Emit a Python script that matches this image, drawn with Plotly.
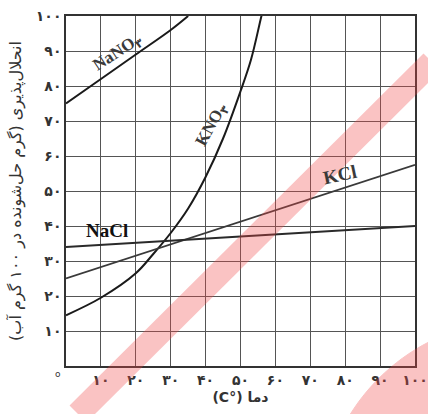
import math
import plotly.graph_objects as go

# ---- data ----
temp_nano3 = [0, 10, 20, 30, 35]
sol_nano3 = [75, 82, 89, 96, 100]

temp_kno3 = [0, 10, 20, 25, 30, 35, 40, 45, 50, 53, 56, 57.5]
sol_kno3 = [14.5, 19.5, 26.5, 32, 38, 45, 54, 65, 78.5, 87.5, 100, 106]

temp_kcl = [0, 20, 40, 60, 80, 100]
sol_kcl = [25, 31.5, 38, 44.5, 51, 57.5]

temp_nacl = [0, 20, 40, 60, 80, 100]
sol_nacl = [34, 35.2, 36.4, 37.6, 38.8, 40]

tick_vals = [10, 20, 30, 40, 50, 60, 70, 80, 90, 100]
tick_text = ["۱۰", "۲۰", "۳۰", "۴۰", "۵۰", "۶۰", "۷۰", "۸۰", "۹۰", "۱۰۰"]

x_title = "\u202Bدما (°C)\u202C"
y_title = "\u202Bانحلال‌پذیری (گرم حل‌شونده در ۱۰۰ گرم آب)\u202C"

fig = go.Figure()

fig.add_trace(go.Scatter(x=temp_nano3, y=sol_nano3, mode="lines",
                         line=dict(color="#1a1a1a", width=2), line_shape="spline", name="NaNO3"))
fig.add_trace(go.Scatter(x=temp_kno3, y=sol_kno3, mode="lines",
                         line=dict(color="#1a1a1a", width=2), line_shape="spline", name="KNO3"))
fig.add_trace(go.Scatter(x=temp_kcl, y=sol_kcl, mode="lines",
                         line=dict(color="#3a3a3a", width=1.8), name="KCl"))
fig.add_trace(go.Scatter(x=temp_nacl, y=sol_nacl, mode="lines",
                         line=dict(color="#2a2a2a", width=1.8), name="NaCl"))

serif = "Liberation Serif, DejaVu Serif, DejaVu Sans"
ann = [
    dict(x=14.9, y=89.4, text="<b>NaNO<sub>۳</sub></b>", textangle=-33,
         font=dict(family=serif, size=17, color="#3a3a3a")),
    dict(x=41.9, y=68.9, text="<b>KNO<sub>۳</sub></b>", textangle=-61,
         font=dict(family=serif, size=17, color="#3a3a3a")),
    dict(x=78.5, y=54.6, text="<b>KCl</b>", textangle=-12,
         font=dict(family=serif, size=19, color="#3a3a3a")),
    dict(x=11.7, y=38.8, text="<b>NaCl</b>", textangle=0,
         font=dict(family=serif, size=19, color="#111111")),
]
for a in ann:
    a.update(xref="x", yref="y", showarrow=False)
    fig.add_annotation(**a)

# zero at the corner
fig.add_annotation(x=0, y=0, xref="x", yref="y", text="o", showarrow=False,
                   xanchor="right", yanchor="top", xshift=-3, yshift=-1,
                   font=dict(family="DejaVu Sans", size=9, color="#333"))

# watermark (decoration, in paper coordinates)
def px2paper(px, py):
    return (px - 66) / 349, (366 - py) / 350

cx, cy, r = 520, 520, 200
pts = [px2paper(cx, cy)]
for i in range(0, 41):
    ang = math.pi + (math.pi / 2) * i / 40
    pts.append(px2paper(cx + r * math.cos(ang), cy + r * math.sin(ang)))
path = "M " + " L ".join(f"{x:.4f},{y:.4f}" for x, y in pts) + " Z"
fig.add_shape(type="path", xref="paper", yref="paper", path=path,
              fillcolor="#f04646", opacity=0.32,
              line=dict(width=1, color="#f04646"), layer="above")

wx0, wy0 = px2paper(78, 414)
wx1, wy1 = px2paper(432, 62)
fig.add_shape(type="line", xref="paper", yref="paper", x0=wx0, y0=wy0, x1=wx1, y1=wy1,
              line=dict(color="#f04646", width=24), opacity=0.32, layer="above")

axis_common = dict(
    range=[0, 100], tickvals=tick_vals, ticktext=tick_text,
    showgrid=True, gridcolor="#555555", gridwidth=1.2,
    showline=True, linecolor="#333333", linewidth=1.5, mirror=True,
    zeroline=False, ticks="", automargin=False,
    tickfont=dict(family="DejaVu Sans", size=14, color="#333333", weight="bold"),
)

fig.update_layout(
    width=428, height=414,
    margin=dict(l=66, r=13, t=16, b=48),
    paper_bgcolor="white", plot_bgcolor="white",
    showlegend=False,
    xaxis=dict(**axis_common,
               title=dict(text=x_title, standoff=6,
                          font=dict(family="DejaVu Sans", size=14, color="#333", weight="bold"))),
    yaxis=dict(**axis_common,
               title=dict(text=y_title, standoff=10,
                          font=dict(family="DejaVu Sans", size=16, color="#333"))),
)

fig.write_html("out.html", config={"displayModeBar": False},
               post_script="document.body.style.margin='0';")
